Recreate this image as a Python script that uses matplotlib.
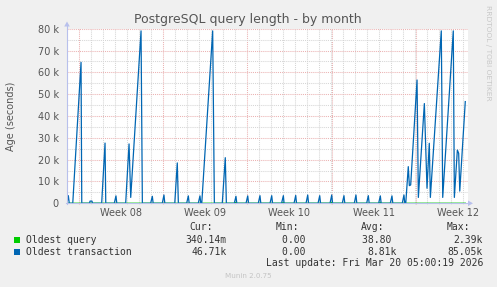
import matplotlib
matplotlib.use('Agg')
import numpy as np
import matplotlib.pyplot as plt
from matplotlib.lines import Line2D
from matplotlib.patches import Rectangle, Polygon
from matplotlib.transforms import blended_transform_factory

# image size in pixels
W, H = 497, 287

# Oldest transaction (days since left edge, value in k seconds)
trans_days = [0.00, 0.11, 0.19, 0.48, 1.17, 1.23, 1.88, 1.92, 2.08, 2.13,
              2.89, 3.17, 3.23, 3.94, 4.08, 4.15, 4.89, 5.17, 5.31, 6.17,
              6.28, 6.97, 7.11, 7.18, 7.94, 8.08, 8.15, 8.98, 9.19, 9.28,
              9.97, 10.11, 10.18, 10.94, 11.08, 11.15, 11.23, 12.14, 12.28, 12.94,
              13.19, 13.28, 13.94, 14.08, 14.15, 14.92, 15.06, 15.13, 15.94, 16.08,
              16.15, 16.92, 17.06, 17.13, 17.88, 18.03, 18.09, 18.92, 19.06, 19.13,
              19.92, 20.06, 20.13, 20.92, 21.06, 21.13, 21.92, 22.06, 22.13, 22.94,
              23.08, 23.15, 23.94, 24.08, 24.15, 24.97, 25.11, 25.18, 25.97, 26.11,
              26.18, 26.94, 27.08, 27.15, 27.94, 28.08, 28.15, 28.23, 28.44, 28.53,
              28.64, 29.17, 29.28, 29.78, 30.00, 30.19, 30.28, 31.19, 31.31, 32.19,
              32.28, 32.53, 32.64, 32.73, 33.19]
trans_vals = [0, 3.5, 0, 0, 64.6, 0, 0, 1.0, 1.0, 0,
              0, 27.6, 0, 0, 3.4, 0, 0, 27.2, 2.7, 79.0,
              0, 0, 3.2, 0, 0, 3.8, 0, 0, 18.5, 0,
              0, 3.4, 0, 0, 3.4, 0, 0, 79.0, 0, 0,
              20.9, 0, 0, 3.2, 0, 0, 3.4, 0, 0, 3.5,
              0, 0, 3.5, 0, 0, 3.5, 0, 0, 3.6, 0,
              0, 3.8, 0, 0, 3.5, 0, 0, 3.8, 0, 0,
              3.5, 0, 0, 3.8, 0, 0, 3.5, 0, 0, 3.4,
              0, 0, 3.4, 0, 0, 3.8, 0, 0, 16.8, 8.1,
              8.4, 56.5, 2.7, 45.7, 6.9, 27.5, 2.7, 79.0, 2.7, 79.0,
              2.7, 24.4, 22.9, 5.6, 46.6]

# Oldest query (days, value in k seconds)
query_days = [0.00, 13.94, 14.08, 14.15, 17.88, 18.03, 18.09, 21.92, 22.06, 22.13,
              25.97, 26.11, 26.18, 33.19]
query_vals = [0, 0, 0.4, 0, 0, 0.4, 0, 0, 0.4, 0,
              0, 0.4, 0, 0]

week_labels = ['Week 08', 'Week 09', 'Week 10', 'Week 11', 'Week 12']
week_lines = [1.03, 8.03, 15.03, 22.05, 29.05]

legend_names = ['Oldest query', 'Oldest transaction']
legend_colors = ['#00cc00', '#0066b3']
cur_vals = ['340.14m', '46.71k']
min_vals = ['0.00 ', '0.00 ']
avg_vals = ['38.80 ', '8.81k']
max_vals = ['2.39k', '85.05k']


def fx(px):
    return px / W


def fy(py):
    return 1 - py / H


fig = plt.figure(figsize=(W / 100, H / 100), dpi=100, facecolor='#f0f0f0')
left, right, top, bottom = 67, 467.5, 28.7, 203.3
ax = fig.add_axes([fx(left), fy(bottom), (right - left) / W, (bottom - top) / H])
ax.set_facecolor('white')

x_max = (right - left) / 12.0
ax.set_xlim(0, x_max)
ax.set_ylim(0, 80000)

# grid
ax.set_xticks(week_lines)
ax.set_xticks(np.arange(0.03, x_max, 1.0), minor=True)
ax.set_yticks(np.arange(0, 80001, 10000))
ax.set_yticks(np.arange(5000, 80000, 10000), minor=True)
ax.grid(which='minor', color='#d6d6d6', linestyle=(0, (1, 1)), linewidth=0.75)
ax.grid(which='major', color='#ebb2b2', linestyle=(0, (1, 1)), linewidth=0.75)
ax.set_axisbelow(True)

ax.set_xticklabels([])
ax.tick_params(axis='x', which='major', length=2, direction='inout', color='#ebb2b2')
ax.tick_params(axis='x', which='minor', length=2, direction='inout', color='#d6d6d6')
ax.tick_params(axis='y', which='both', length=0, pad=5.8, labelsize=7, labelcolor='#555555')
ax.set_yticklabels(['0' if v == 0 else '%d k' % (v // 1000) for v in range(0, 80001, 10000)])
for s in ax.spines.values():
    s.set_visible(False)

ax.plot(query_days, np.array(query_vals) * 1000, color=legend_colors[0], lw=1.0, zorder=3)
ax.plot(trans_days, np.array(trans_vals) * 1000, color=legend_colors[1], lw=0.9, zorder=4)

# week labels centred between week lines
trans = blended_transform_factory(ax.transData, ax.transAxes)
for i, lab in enumerate(week_labels):
    ax.text(week_lines[i] + 3.5, -0.054, lab, transform=trans, ha='center', va='center',
            fontsize=7, color='#555555')

# axis lines and arrows
axis_col = '#b8c0ec'
fig.add_artist(Line2D([fx(67), fx(67)], [fy(204), fy(25)], color=axis_col, lw=0.8))
fig.add_artist(Line2D([fx(66), fx(470)], [fy(203.3), fy(203.3)], color=axis_col, lw=0.8))
fig.add_artist(Polygon([[fx(64.2), fy(26.5)], [fx(69.8), fy(26.5)], [fx(67), fy(21.5)]],
                       closed=True, color=axis_col, lw=0))
fig.add_artist(Polygon([[fx(468), fy(200.5)], [fx(468), fy(206.1)], [fx(473), fy(203.3)]],
                       closed=True, color=axis_col, lw=0))

# title and labels
fig.text(fx(248), fy(19.5), 'PostgreSQL query length - by month', ha='center', va='center',
         fontsize=9, color='#555555')
fig.text(fx(11), fy(116), 'Age (seconds)', rotation=90, ha='center', va='center',
         fontsize=7, color='#555555')
fig.text(fx(488), fy(5), 'RRDTOOL / TOBI OETIKER', rotation=270, ha='center', va='top',
         fontsize=5.4, color='#c8c8c8')

# legend
mono = 'DejaVu Sans Mono'
tc = '#333333'
for lab, xr in zip(['Cur:', 'Min:', 'Avg:', 'Max:'], [213, 299, 384.5, 470]):
    fig.text(fx(xr), fy(227.3), lab, ha='right', va='center', family=mono, fontsize=7, color=tc)
for i in range(2):
    yy = 240 + i * 11.8
    fig.add_artist(Rectangle((fx(14), fy(yy + 3)), 6 / W, 6 / H, color=legend_colors[i], lw=0))
    fig.text(fx(26), fy(yy), legend_names[i], ha='left', va='center', family=mono,
             fontsize=7, color=tc)
    fig.text(fx(226.5), fy(yy), cur_vals[i], ha='right', va='center', family=mono, fontsize=7, color=tc)
    fig.text(fx(311), fy(yy), min_vals[i], ha='right', va='center', family=mono, fontsize=7, color=tc)
    fig.text(fx(397), fy(yy), avg_vals[i], ha='right', va='center', family=mono, fontsize=7, color=tc)
    fig.text(fx(483), fy(yy), max_vals[i], ha='right', va='center', family=mono, fontsize=7, color=tc)
fig.text(fx(483), fy(263.3), 'Last update: Fri Mar 20 05:00:19 2026', ha='right', va='center',
         family=mono, fontsize=7, color=tc)
fig.text(fx(248), fy(276), 'Munin 2.0.75', ha='center', va='center', fontsize=5.1, color='#c4c4c4')

fig.savefig('out.png', dpi=100, facecolor=fig.get_facecolor())
